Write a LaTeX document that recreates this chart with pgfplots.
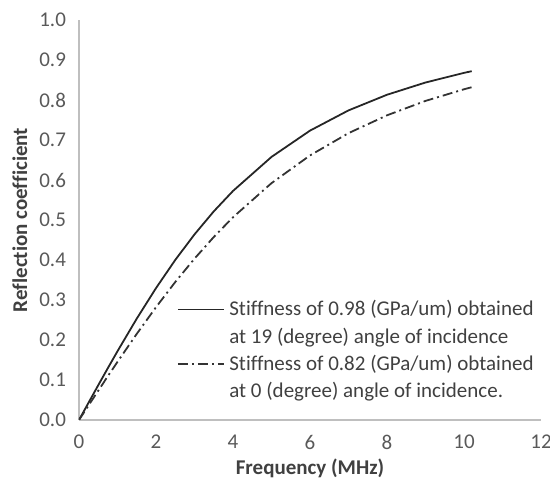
\documentclass[border=0pt]{standalone}
\usepackage{fontspec}
\setmainfont{Carlito}[Ligatures=NoCommon]
\usepackage{pgfplots}
\pgfplotsset{compat=1.18}
\definecolor{axgray}{HTML}{BFBFBF}
\definecolor{txtgray}{HTML}{595959}
\definecolor{legtxt}{HTML}{404040}
\begin{document}
\begin{tikzpicture}
\useasboundingbox (0,0) rectangle (275pt,243pt);
\begin{axis}[
  at={(39.5pt,33pt)}, anchor=south west,
  scale only axis, width=231pt, height=200pt,
  xmin=0, xmax=12, ymin=0, ymax=1,
  axis x line=bottom, axis y line=left,
  axis line style={axgray, line width=0.6pt, -},
  xtick={0,2,...,12}, ytick={0,0.1,...,1.0},
  major tick length=0pt,
  font=\fontsize{10.5}{12.5}\selectfont,
  tick label style={txtgray, font=\fontsize{10.5}{12.5}\selectfont},
  /pgf/number format/assume math mode=true,
  yticklabel style={/pgf/number format/fixed, /pgf/number format/fixed zerofill, /pgf/number format/precision=1, xshift=-3pt},
  xticklabel style={yshift=-4pt},
  xlabel={\textbf{Frequency (MHz)}},
  ylabel={\textbf{Reflection coefficient}},
  xlabel style={at={(axis description cs:0.5,-0.12)}, anchor=center, text=legtxt},
  ylabel style={at={(axis description cs:-0.128,0.5)}, anchor=center, text=legtxt},
  legend style={draw=none, fill=none, at={(axis description cs:0.198,0.32)}, anchor=north west,
    font=\fontsize{10.5}{12.5}\selectfont, text=legtxt, row sep=0.5pt},
  legend cell align=left,
  legend image code/.code={\draw[#1] (0cm,0cm) -- (0.82cm,0cm);},
]
\addplot[black!85, line width=0.9pt] coordinates {
(0,0) (0.25,0.0436) (0.5,0.0870) (0.75,0.1298) (1,0.1720) (1.5,0.2534) (2,0.3297) (2.5,0.4001) (3,0.4640) (3.5,0.5215) (4,0.5726) (5,0.6577) (6,0.7234) (7,0.7740) (8,0.8131) (9,0.8437) (10,0.8678) (10.2,0.8720)
};
\addlegendentry{Stiffness of 0.98 (GPa/um) obtained}
\addlegendimage{empty legend}
\addlegendentry{at 19 (degree) angle of incidence}
\addplot[black!80, line width=0.9pt, dash pattern=on 5pt off 2pt on 1pt off 2pt] coordinates {
(0,0) (0.25,0.0367) (0.5,0.0733) (0.75,0.1096) (1,0.1454) (1.5,0.2153) (2,0.2820) (2.5,0.3449) (3,0.4034) (3.5,0.4574) (4,0.5068) (5,0.5921) (6,0.6614) (7,0.7171) (8,0.7617) (9,0.7977) (10,0.8268) (10.2,0.8319)
};
\addlegendentry{Stiffness of 0.82 (GPa/um) obtained}
\addlegendimage{empty legend}
\addlegendentry{at 0 (degree) angle of incidence.}
\end{axis}
\end{tikzpicture}
\end{document}
